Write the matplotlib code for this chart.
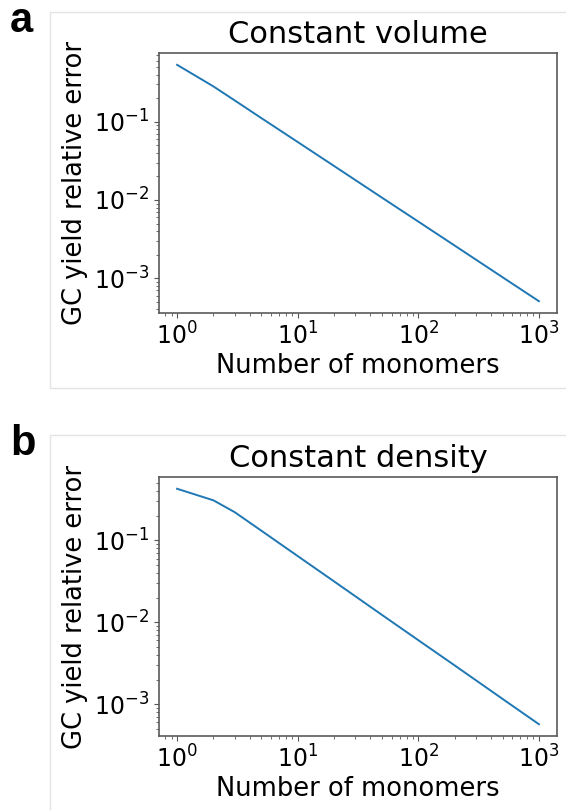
import numpy as np
import matplotlib.pyplot as plt
from matplotlib.patches import Rectangle

plt.rcParams['font.family'] = ['DejaVu Sans']

# number of monomers and GC yield relative error for each setup
n_monomers = [1, 2, 3, 5, 10, 20, 50, 100, 200, 500, 1000]
err_volume = [0.532, 0.282, 0.187, 0.111, 0.0550, 0.0272, 0.0107, 0.0053, 0.00262, 0.00103, 0.00051]
err_density = [0.426, 0.308, 0.221, 0.131, 0.0643, 0.0316, 0.0123, 0.00605, 0.00298, 0.00116, 0.00057]

titles = ['Constant volume', 'Constant density']
panel_tags = ['a', 'b']

W, H = 566, 810
fig = plt.figure(figsize=(W / 100, H / 100), dpi=100)

def px(x0, y0, x1, y1):
    # pixel box (top-left origin) -> figure fraction [left, bottom, width, height]
    return [x0 / W, 1 - y1 / H, (x1 - x0) / W, (y1 - y0) / H]

axes_boxes = [(159, 53, 557, 313), (159, 477, 557, 736)]
frame_tops = [12, 435]
frame_bottoms = [388, 830]
tag_pos = [(10, 32), (10, 455)]

for i, errs in enumerate([err_volume, err_density]):
    # faint frame around each panel
    x0, y0, x1, y1 = 50, frame_tops[i], 600, frame_bottoms[i]
    fig.add_artist(Rectangle((x0 / W, 1 - y1 / H), (x1 - x0) / W, (y1 - y0) / H,
                             transform=fig.transFigure, fill=False,
                             edgecolor='#e4e4e4', linewidth=1.0))
    fig.text(tag_pos[i][0] / W, 1 - tag_pos[i][1] / H, panel_tags[i],
             fontsize=30, fontweight='bold', family='Liberation Sans',
             ha='left', va='baseline')

    ax = fig.add_axes(px(*axes_boxes[i]))
    ax.plot(n_monomers, errs, color='#1f77b4', linewidth=1.4)
    ax.set_xscale('log')
    ax.set_yscale('log')
    ax.set_title(titles[i], fontsize=22, pad=7)
    ax.set_xlabel('Number of monomers', fontsize=18.5, labelpad=2)
    ax.set_ylabel('GC yield relative error', fontsize=18.5, labelpad=4)
    ax.tick_params(labelsize=17, colors='#555555', labelcolor='black')
    ax.tick_params(which='minor', colors='#555555')
    for s in ax.spines.values():
        s.set_color('#5a5a5a')
        s.set_linewidth(1.2)

fig.savefig('out.png', dpi=100)
